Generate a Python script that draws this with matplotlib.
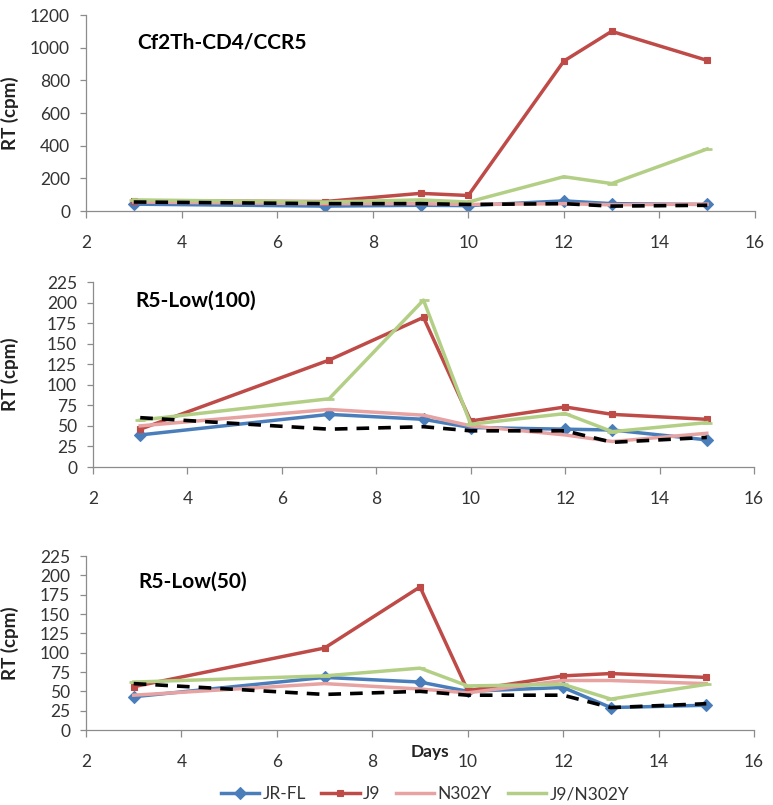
import matplotlib
matplotlib.use("Agg")
import matplotlib.pyplot as plt

plt.rcParams['font.family'] = ['Lato', 'DejaVu Sans']

days = [3, 7, 9, 10, 12, 13, 15]
series_names = ["JR-FL", "J9", "N302Y", "J9/N302Y"]
panel_titles = ["Cf2Th-CD4/CCR5", "R5-Low(100)", "R5-Low(50)"]

# Panel 1: Cf2Th-CD4/CCR5
p1_jrfl = [42, 30, 35, 33, 62, 45, 40]
p1_j9 = [62, 58, 108, 95, 918, 1100, 922]
p1_n302y = [55, 45, 45, 40, 45, 38, 42]
p1_j9n302y = [68, 55, 68, 55, 210, 168, 380]
p1_mock = [55, 45, 45, 40, 45, 30, 35]

# Panel 2: R5-Low(100)
p2_jrfl = [39, 64, 58, 48, 46, 45, 33]
p2_j9 = [46, 130, 182, 56, 73, 64, 58]
p2_n302y = [50, 70, 63, 50, 39, 31, 41]
p2_j9n302y = [57, 83, 203, 52, 65, 43, 54]
p2_mock = [60, 46, 49, 44, 44, 30, 36]

# Panel 3: R5-Low(50)
p3_jrfl = [43, 68, 62, 50, 55, 29, 32]
p3_j9 = [56, 106, 185, 51, 70, 73, 68]
p3_n302y = [45, 60, 53, 48, 64, 64, 60]
p3_j9n302y = [62, 70, 80, 57, 59, 40, 59]
p3_mock = [60, 46, 50, 45, 45, 29, 34]

panels = [
    (p1_jrfl, p1_j9, p1_n302y, p1_j9n302y, p1_mock),
    (p2_jrfl, p2_j9, p2_n302y, p2_j9n302y, p2_mock),
    (p3_jrfl, p3_j9, p3_n302y, p3_j9n302y, p3_mock),
]
ylims = [(0, 1200), (0, 225), (0, 225)]
yticks = [list(range(0, 1201, 200)), list(range(0, 226, 25)), list(range(0, 226, 25))]
xticks = list(range(2, 17, 2))

colors = ["#4A7EBB", "#BE4B48", "#E6A3A2", "#B3CF86"]
markers = ["D", "s", None, "_"]
msizes = [6.5, 4, 0, 7]

W, H = 773, 805
rects = [
    (86, 755, 15, 211),
    (93, 754, 282, 467),
    (86, 754, 556, 730),
]
title_pos = [(0.076, 0.862), (0.064, 0.897), (0.078, 0.85)]

fig = plt.figure(figsize=(W / 100, H / 100), dpi=100)
lines_for_legend = []
for i, (l, r, t, b) in enumerate(rects):
    ax = fig.add_axes([l / W, 1 - b / H, (r - l) / W, (b - t) / H])
    data = panels[i]
    for k in range(4):
        ln, = ax.plot(days, data[k], color=colors[k], lw=2.5,
                      marker=markers[k] if markers[k] else None,
                      markersize=msizes[k], markeredgewidth=2 if markers[k] == "_" else 0.8,
                      markeredgecolor=colors[k], markerfacecolor=colors[k],
                      label=series_names[k], zorder=2 + k)
        if i == 0:
            lines_for_legend.append(ln)
    ax.plot(days, data[4], color="black", lw=2.6, linestyle=(0, (3.5, 2.5)), zorder=10)
    ax.set_xlim(2, 16)
    ax.set_ylim(*ylims[i])
    ax.set_xticks(xticks)
    ax.set_yticks(yticks[i])
    for s in ["top", "right"]:
        ax.spines[s].set_visible(False)
    for s in ["left", "bottom"]:
        ax.spines[s].set_color("#8C8C8C")
        ax.spines[s].set_linewidth(0.9)
    ax.tick_params(axis="y", direction="out", length=4.5, width=0.9, color="#8C8C8C",
                   labelsize=12.5, labelcolor="#333333", pad=7)
    ax.tick_params(axis="x", direction="out", length=5, width=0.9, color="#8C8C8C",
                   labelsize=12.5, labelcolor="#333333", pad=12)
    ax.set_ylabel("RT (cpm)", fontsize=13.5, fontweight="bold", color="#222222")
    ax.yaxis.set_label_coords((19 - l) / (r - l), 0.5)
    ax.text(title_pos[i][0], title_pos[i][1], panel_titles[i], transform=ax.transAxes,
            fontsize=15, fontweight="bold", va="center", ha="left", color="black")
    ax.patch.set_alpha(0)

fig.text(430 / W, 1 - 752 / H, "Days", fontsize=12.5, fontweight="bold",
         ha="center", va="center", color="#222222")

fig.legend(handles=lines_for_legend, labels=series_names, loc="center",
           bbox_to_anchor=(425 / W, 1 - 794 / H), ncol=4, frameon=False,
           fontsize=12.5, handlelength=2.2, columnspacing=0.9, handletextpad=0.2,
           labelcolor="#333333")

fig.savefig("out.png", dpi=100)
